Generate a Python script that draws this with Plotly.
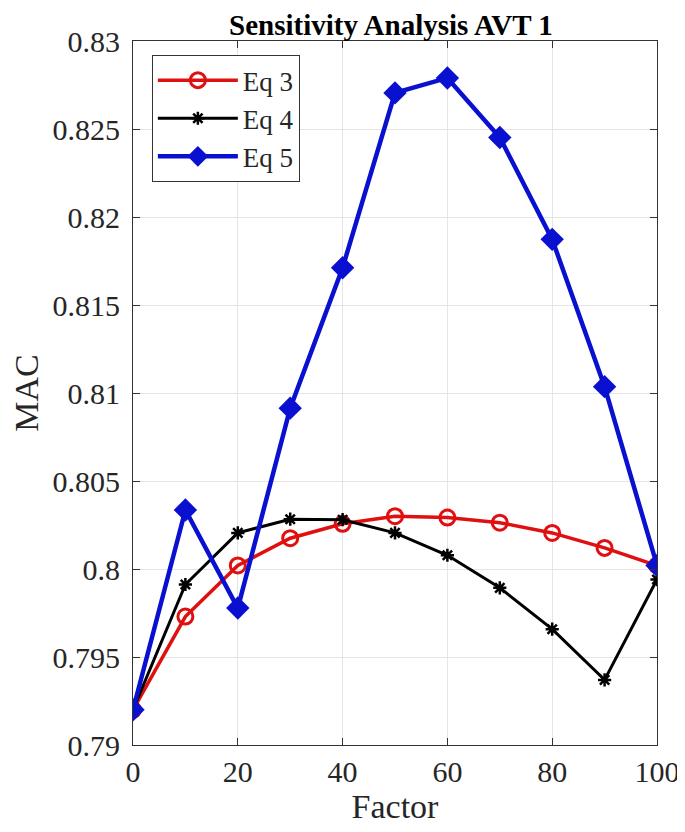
import plotly.graph_objects as go

factor = [0, 10, 20, 30, 40, 50, 60, 70, 80, 90, 100]
eq3 = [0.7920, 0.7973, 0.8002, 0.80175, 0.80257, 0.80300, 0.80292, 0.80263, 0.80205, 0.80120, 0.80020]
eq4 = [0.7920, 0.79912, 0.80205, 0.80283, 0.80280, 0.80205, 0.80078, 0.79893, 0.79658, 0.79370, 0.79940]
eq5 = [0.7920, 0.80335, 0.79778, 0.80914, 0.81712, 0.82705, 0.82790, 0.82452, 0.81873, 0.81036, 0.80020]

y_ticks = [0.79, 0.795, 0.8, 0.805, 0.81, 0.815, 0.82, 0.825, 0.83]
y_tick_text = ["0.79", "0.795", "0.8", "0.805", "0.81", "0.815", "0.82", "0.825", "0.83"]
x_ticks = [0, 20, 40, 60, 80, 100]

FONT = "Liberation Serif"

fig = go.Figure()
fig.add_trace(go.Scatter(
    x=factor, y=eq3, name="Eq 3", mode="lines+markers",
    line=dict(color="#e01010", width=3.5),
    marker=dict(symbol="circle-open", size=15, color="#e01010", line=dict(width=3)),
))
fig.add_trace(go.Scatter(
    x=factor, y=eq4, name="Eq 4", mode="lines+markers",
    line=dict(color="black", width=3),
    marker=dict(symbol="asterisk-open", size=11, color="black", line=dict(width=2.5)),
))
fig.add_trace(go.Scatter(
    x=factor, y=eq5, name="Eq 5", mode="lines+markers",
    line=dict(color="#0a10d0", width=4.5),
    marker=dict(symbol="diamond", size=18, color="#0a10d0"),
))

fig.update_layout(
    width=685, height=832,
    margin=dict(l=125, r=36, t=33, b=95),
    paper_bgcolor="white", plot_bgcolor="white",
    font=dict(family=FONT, color="#262626", size=30),
    title=dict(text="<b>Sensitivity Analysis AVT 1</b>", x=0.559, xanchor="center",
               y=0.98, yanchor="middle", font=dict(family=FONT, size=29, color="black")),
    showlegend=True,
    legend=dict(x=0.036, y=0.98, xanchor="left", yanchor="top",
                bordercolor="#333333", borderwidth=1, bgcolor="white",
                font=dict(family=FONT, size=27, color="#262626"),
                tracegroupgap=0, itemwidth=80),
)
fig.update_xaxes(
    range=[0, 100], tickvals=x_ticks, showgrid=True, gridcolor="#e4e4e4", gridwidth=1,
    showline=True, linecolor="#333333", linewidth=1, mirror="ticks",
    ticks="inside", ticklen=7, tickcolor="#333333", zeroline=False,
    tickfont=dict(family=FONT, size=30),
    title=dict(text="Factor", font=dict(family=FONT, size=34), standoff=4),
)
fig.update_yaxes(
    range=[0.79, 0.83], tickvals=y_ticks, ticktext=y_tick_text,
    showgrid=True, gridcolor="#e4e4e4", gridwidth=1,
    showline=True, linecolor="#333333", linewidth=1, mirror="ticks",
    ticks="inside", ticklen=7, tickcolor="#333333", zeroline=False,
    tickfont=dict(family=FONT, size=30), ticklabelstandoff=6,
    title=dict(text="MAC", font=dict(family=FONT, size=34), standoff=4),
)

fig.write_html("out.html")
